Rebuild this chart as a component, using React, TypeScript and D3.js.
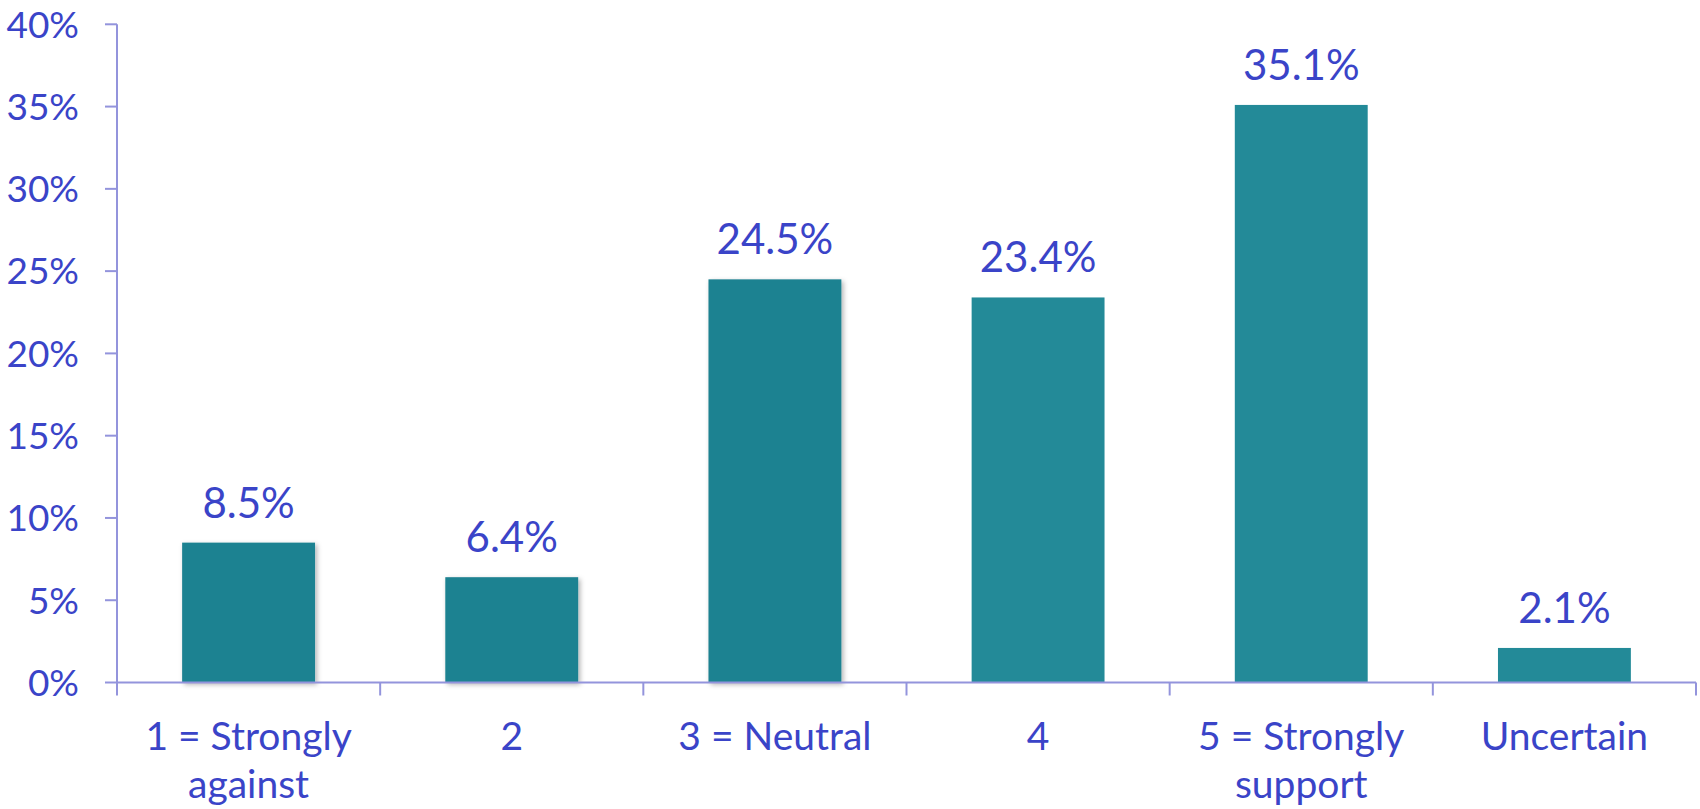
import React from "react";
import * as d3 from "d3";

const categories: string[][] = [
  ["1 = Strongly", "against"],
  ["2"],
  ["3 = Neutral"],
  ["4"],
  ["5 = Strongly", "support"],
  ["Uncertain"],
];
const values: number[] = [8.5, 6.4, 24.5, 23.4, 35.1, 2.1];
const valueLabels: string[] = ["8.5%", "6.4%", "24.5%", "23.4%", "35.1%", "2.1%"];
const yTicks: number[] = [0, 5, 10, 15, 20, 25, 30, 35, 40];

const W = 1700;
const H = 809;
const left = 117;
const right = 1696;
const top = 24.3;
const bottom = 682.5;
const textColor = "#3a44c8";
const axisColor = "#9394dc";
const font = "Lato, 'Open Sans', sans-serif";

export default function App() {
  const x = d3
    .scaleBand<number>()
    .domain(d3.range(categories.length))
    .range([left, right])
    .paddingInner(0.495)
    .paddingOuter(0.2475);
  const y = d3.scaleLinear().domain([0, 40]).range([bottom, top]);
  const step = (right - left) / categories.length;

  return (
    <svg
      width={W}
      height={H}
      style={{ position: "absolute", left: 0, top: 0, background: "#fff" }}
    >
      <defs>
        <filter id="sh" x="-10%" y="-10%" width="130%" height="130%">
          <feDropShadow dx="2" dy="2" stdDeviation="2.5" floodColor="#000" floodOpacity="0.3" />
        </filter>
      </defs>
      {/* bars */}
      {values.map((v, i) => (
        <rect
          key={i}
          x={x(i)}
          y={y(v)}
          width={x.bandwidth()}
          height={y(0) - y(v)}
          fill={i < 3 ? "#1f8291" : "#238a98"}
          filter={i < 3 ? "url(#sh)" : undefined}
        />
      ))}
      {/* y axis */}
      <line x1={left} x2={left} y1={top} y2={bottom} stroke={axisColor} strokeWidth={2} />
      {yTicks.map((t) => (
        <g key={t}>
          <line x1={left - 12} x2={left} y1={y(t)} y2={y(t)} stroke={axisColor} strokeWidth={2} />
          <text
            x={79}
            y={y(t)}
            dy="0.36em"
            textAnchor="end"
            fontFamily={font}
            fontSize={37}
            fill={textColor}
          >
            {t}%
          </text>
        </g>
      ))}
      {/* x axis */}
      <line x1={left} x2={right} y1={bottom} y2={bottom} stroke={axisColor} strokeWidth={2} />
      {d3.range(categories.length + 1).map((i) => (
        <line
          key={i}
          x1={left + i * step}
          x2={left + i * step}
          y1={bottom}
          y2={bottom + 13}
          stroke={axisColor}
          strokeWidth={2}
        />
      ))}
      {categories.map((lines, i) => (
        <text
          key={i}
          x={(x(i) as number) + x.bandwidth() / 2}
          y={750}
          textAnchor="middle"
          fontFamily={font}
          fontSize={39}
          fill={textColor}
        >
          {lines.map((l, j) => (
            <tspan key={j} x={(x(i) as number) + x.bandwidth() / 2} dy={j === 0 ? 0 : 48}>
              {l}
            </tspan>
          ))}
        </text>
      ))}
      {/* value labels */}
      {values.map((v, i) => (
        <text
          key={i}
          x={(x(i) as number) + x.bandwidth() / 2}
          y={y(v) - 25}
          textAnchor="middle"
          fontFamily={font}
          fontSize={42}
          fill={textColor}
        >
          {valueLabels[i]}
        </text>
      ))}
    </svg>
  );
}
